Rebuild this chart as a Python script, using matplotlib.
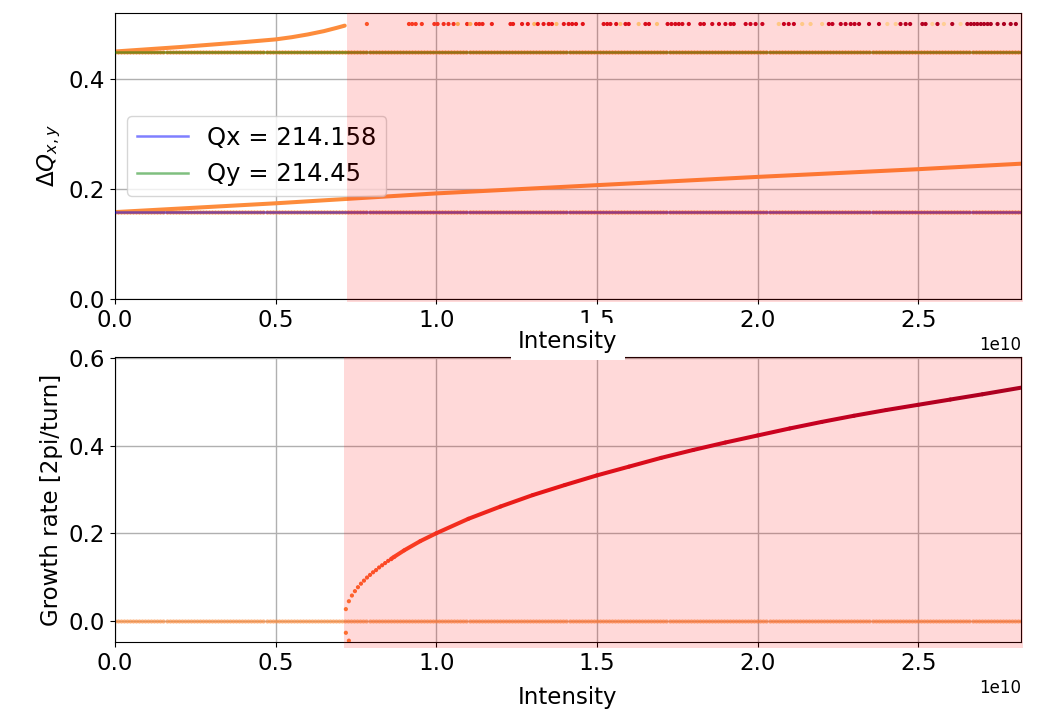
import numpy as np
import matplotlib
matplotlib.use("Agg")
import matplotlib.pyplot as plt
from matplotlib.collections import LineCollection
from matplotlib.colors import Normalize

# ---------------- data (intensity in units of 1e10) ----------------
n_scan = 300
i_max = 2.82
qx_frac = 0.158
qy_frac = 0.45
thr_top = 0.7235
thr_bot = 0.7134

# upper mode (starts at Qy), only below threshold
modeA_I = [0.0, 0.1, 0.2, 0.3, 0.4, 0.5, 0.55, 0.6, 0.65, 0.69, 0.715]
modeA_Q = [0.450, 0.454, 0.458, 0.4625, 0.467, 0.472, 0.476, 0.481, 0.487, 0.493, 0.497]

# lower mode (starts at Qx), full range
modeB_I = [0.0, 0.5, 1.0, 1.5, 2.0, 2.5, 2.82]
modeB_Q = [0.158, 0.174, 0.192, 0.207, 0.222, 0.236, 0.246]

# unstable modes sitting at dQ = 0.5 (intensity, growth rate)
half_I = [0.784, 0.915, 0.925, 0.936, 0.955, 0.994, 1.004, 1.023, 1.038, 1.054,
          1.067, 1.096, 1.106, 1.124, 1.134, 1.144, 1.173, 1.231, 1.239, 1.267,
          1.285, 1.305, 1.316, 1.334, 1.350, 1.360, 1.374, 1.397, 1.412, 1.423,
          1.435, 1.456, 1.521, 1.532, 1.542, 1.560, 1.573, 1.589, 1.599, 1.630,
          1.651, 1.662, 1.687, 1.720, 1.732, 1.744, 1.755, 1.766, 1.786, 1.822,
          1.833, 1.859, 1.880, 1.900, 1.916, 1.926, 1.963, 1.978, 1.994, 2.015,
          2.066, 2.082, 2.097, 2.113, 2.139, 2.165, 2.201, 2.222, 2.233, 2.259,
          2.274, 2.290, 2.302, 2.316, 2.347, 2.378, 2.404, 2.430, 2.445, 2.461,
          2.475, 2.513, 2.523, 2.544, 2.560, 2.580, 2.606, 2.632, 2.653, 2.664,
          2.674, 2.684, 2.695, 2.705, 2.716, 2.726, 2.747, 2.767, 2.788, 2.804]
half_G = [0.095, 0.17, 0.17, 0.175, 0.18, 0.198, 0.20, 0.207, 0.212, 0.217,
          -0.22, 0.23, -0.233, 0.238, 0.241, 0.244, 0.253, 0.27, 0.272, 0.279,
          0.283, -0.288, 0.29, 0.295, 0.298, 0.30, -0.305, 0.309, 0.312, 0.315,
          0.318, 0.322, 0.336, 0.338, 0.34, 0.344, -0.347, 0.35, 0.352, -0.358,
          0.362, 0.364, -0.369, 0.375, 0.377, 0.379, 0.381, 0.383, 0.387, 0.393,
          0.395, 0.40, 0.403, 0.407, 0.41, 0.412, 0.418, 0.42, 0.423, 0.426,
          -0.434, 0.436, 0.439, 0.441, -0.445, -0.449, -0.454, 0.457, 0.459, 0.463,
          0.465, 0.467, 0.469, 0.471, 0.475, 0.479, -0.483, -0.486, 0.488, 0.49,
          0.492, 0.497, 0.498, -0.501, 0.503, -0.505, 0.508, -0.511, 0.514, 0.515,
          0.516, 0.517, 0.519, 0.52, 0.521, 0.522, 0.525, 0.527, 0.529, 0.531]

# growth rate: discrete points right above threshold
grow_dot_I = [0.7186, 0.7280, 0.7374, 0.7468, 0.7562, 0.7656, 0.7750, 0.7844, 0.7938,
              0.8032, 0.8126, 0.8220, 0.8314, 0.8408, 0.8502, 0.8596, 0.8690]
grow_dot_G = [0.027, 0.045, 0.058, 0.068, 0.077, 0.085, 0.092, 0.099, 0.105,
              0.111, 0.116, 0.122, 0.127, 0.132, 0.137, 0.141, 0.146]
damp_dot_I = [0.7186, 0.7280, 0.7374]
damp_dot_G = [-0.027, -0.045, -0.058]

# growth rate: dense part of the branch
grow_I = [0.86, 0.9, 0.95, 1.0, 1.1, 1.2, 1.3, 1.4, 1.5, 1.6, 1.7, 1.8, 1.9,
          2.0, 2.1, 2.2, 2.3, 2.4, 2.5, 2.6, 2.7, 2.82]
grow_G = [0.142, 0.161, 0.182, 0.200, 0.233, 0.261, 0.287, 0.310, 0.332, 0.352,
          0.372, 0.390, 0.407, 0.423, 0.439, 0.454, 0.468, 0.481, 0.493, 0.505,
          0.517, 0.532]

legend_labels = ["Qx = 214.158", "Qy = 214.45"]

# ---------------- plotting ----------------
E = 1e10
scan_I = np.linspace(0.0, i_max, n_scan) * E
cmap = plt.get_cmap("YlOrRd")
norm = Normalize(-0.6, 0.6)
c0 = cmap(norm(0.0))

LABEL_FS = 16.5
TICK_FS = 16.5

fig = plt.figure(figsize=(10.51, 7.21), dpi=100)
ax1 = fig.add_axes([115/1051, 1-299/721, 906/1051, 286/721])
ax2 = fig.add_axes([115/1051, 1-642/721, 906/1051, 285/721])
ax1.set_zorder(2)

S = 9
# ---- top panel
ax1.scatter(scan_I, np.full(n_scan, qy_frac), s=S, color=c0, lw=0, zorder=2)
ax1.scatter(scan_I, np.full(n_scan, qx_frac), s=S, color=c0, lw=0, zorder=2)
ax1.plot(np.array(modeA_I)*E, modeA_Q, color=c0, lw=2.9, solid_capstyle="round", zorder=2)
ax1.plot(np.array(modeB_I)*E, modeB_Q, color=c0, lw=2.9, solid_capstyle="round", zorder=2)
ax1.scatter(np.array(half_I)*E, np.full(len(half_I), 0.5), s=S,
            c=cmap(norm(np.array(half_G))), lw=0, zorder=2)
hx = ax1.axhline(qx_frac, color="blue", alpha=0.5, lw=1.8, zorder=3, label=legend_labels[0])
hy = ax1.axhline(qy_frac, color="green", alpha=0.5, lw=1.8, zorder=3, label=legend_labels[1])
ax1.legend(handles=[hx, hy], loc="center left", bbox_to_anchor=(0.0, 0.5),
           fontsize=17.5, handlelength=2.1)
ax1.axvspan(thr_top*E, 2.827*E, ymin=-0.012, ymax=1.0, color="red", alpha=0.15,
            lw=0, zorder=6, clip_on=False)
ax1.set_xlim(0, i_max*E)
ax1.set_ylim(0, 0.52)
ax1.set_yticks([0.0, 0.2, 0.4])
ax1.set_ylabel(r"$\Delta Q_{x,y}$", fontsize=LABEL_FS)
ax1.set_xlabel("Intensity", fontsize=LABEL_FS, labelpad=-1.5,
               bbox=dict(facecolor="white", edgecolor="none", pad=5))
ax1.grid(True, color="#b0b0b0", lw=1)

# ---- bottom panel
ax2.scatter(scan_I, np.zeros(n_scan), s=S, color=c0, alpha=0.65, lw=0, zorder=2)
ax2.scatter(np.array(grow_dot_I)*E, grow_dot_G, s=S,
            c=cmap(norm(np.array(grow_dot_G))), lw=0, zorder=3)
ax2.scatter(np.array(damp_dot_I)*E, damp_dot_G, s=S,
            c=cmap(norm(np.array(damp_dot_G) * -1)), lw=0, zorder=3)
gI = np.array(grow_I)*E
gG = np.array(grow_G)
segs = np.stack([np.column_stack([gI[:-1], gG[:-1]]),
                 np.column_stack([gI[1:], gG[1:]])], axis=1)
lc = LineCollection(segs, colors=cmap(norm((gG[:-1]+gG[1:])/2)), linewidths=2.9,
                    capstyle="round", zorder=3)
ax2.add_collection(lc)
ax2.axvspan(thr_bot*E, 2.827*E, ymin=-0.022, ymax=1.0, color="red", alpha=0.15,
            lw=0, zorder=6, clip_on=False)
ax2.set_xlim(0, i_max*E)
ax2.set_ylim(-0.048, 0.602)
ax2.set_yticks([0.0, 0.2, 0.4, 0.6])
ax2.set_ylabel("Growth rate [2pi/turn]", fontsize=LABEL_FS)
ax2.set_xlabel("Intensity", fontsize=LABEL_FS, labelpad=8)
ax2.grid(True, color="#b0b0b0", lw=1)

for ax in (ax1, ax2):
    ax.tick_params(labelsize=TICK_FS)
    ax.xaxis.get_offset_text().set_fontsize(12)
    ax.set_axisbelow(True)

fig.savefig("out.png", dpi=100)
